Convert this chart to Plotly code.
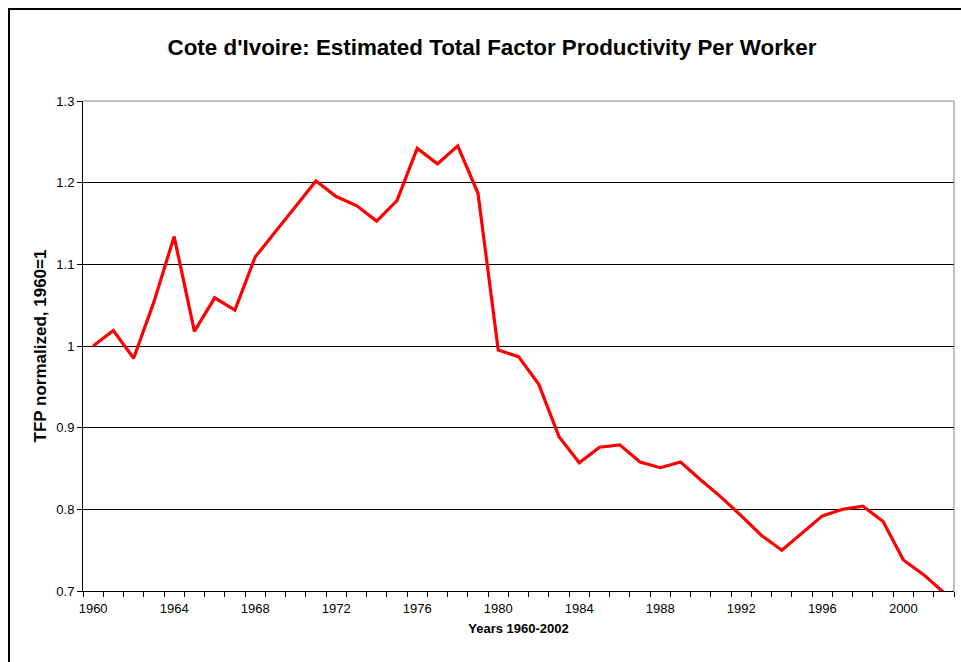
import plotly.graph_objects as go

years = list(range(1960, 2003))
tfp = [1.000, 1.019, 0.985, 1.054, 1.134, 1.018, 1.059, 1.044, 1.109, 1.140,
       1.171, 1.202, 1.183, 1.172, 1.153, 1.178, 1.242, 1.223, 1.245, 1.187,
       0.995, 0.987, 0.953, 0.889, 0.857, 0.876, 0.879, 0.858, 0.851, 0.858,
       0.836, 0.815, 0.792, 0.768, 0.750, 0.771, 0.792, 0.800, 0.804, 0.785,
       0.738, 0.720, 0.698]
xtick_vals = list(range(1960, 2001, 4))
xtick_text = [str(v) for v in xtick_vals]
ytick_vals = [0.7, 0.8, 0.9, 1.0, 1.1, 1.2, 1.3]
ytick_text = ["0.7", "0.8", "0.9", "1", "1.1", "1.2", "1.3"]

W, H = 961, 662
L, R, T, B = 83, 7, 101, 71
pw, ph = W - L - R, H - T - B

def px_x(x):
    return (x - L) / pw

def px_y(y):
    return (H - B - y) / ph

fig = go.Figure()
fig.add_trace(go.Scatter(x=years, y=tfp, mode="lines",
                         line=dict(color="#ff0000", width=3.2),
                         showlegend=False))

font = "Liberation Sans, Arial, sans-serif"
fig.update_layout(
    width=W, height=H,
    margin=dict(l=L, r=R, t=T, b=B),
    paper_bgcolor="white", plot_bgcolor="white",
    font=dict(family=font, size=13, color="black"),
    title=dict(text="<b>Cote d'Ivoire: Estimated Total Factor Productivity Per Worker</b>",
               x=492 / W, xanchor="center", y=1 - 47 / H,
               yanchor="middle",
               font=dict(size=22.4, family=font, color="black")),
    xaxis=dict(range=[1959.5, 2002.5], tickmode="array", tickvals=xtick_vals,
               ticktext=xtick_text, ticks="outside", ticklen=5,
               tickcolor="rgba(0,0,0,0)", showgrid=False, zeroline=False,
               showline=True, linecolor="black", linewidth=1,
               tickfont=dict(size=13),
               minor=dict(tick0=1959.5, dtick=1, ticks="outside", ticklen=5,
                          tickcolor="black", tickwidth=1, showgrid=False),
               title=dict(text="<b>Years 1960-2002</b>", font=dict(size=13),
                          standoff=9)),
    yaxis=dict(range=[0.7, 1.3], tickmode="array", tickvals=ytick_vals,
               ticktext=ytick_text, ticks="outside", ticklen=5,
               tickcolor="black", showgrid=True, gridcolor="black",
               gridwidth=1, zeroline=False, showline=True, linecolor="black",
               linewidth=1, tickfont=dict(size=13),
               title=dict(text="<b>TFP normalized, 1960=1</b>",
                          font=dict(size=17), standoff=5)),
)

# plot area top/right border (gray)
fig.add_shape(type="line", xref="paper", yref="paper", x0=1, x1=1, y0=0, y1=1,
              line=dict(color="#808080", width=1))
fig.add_shape(type="line", xref="paper", yref="paper", x0=0, x1=1, y0=1, y1=1,
              line=dict(color="#808080", width=1))
# chart area border (left and top edges visible in the picture)
fig.add_shape(type="line", xref="paper", yref="paper",
              x0=px_x(9), x1=px_x(9), y0=px_y(700), y1=px_y(8),
              line=dict(color="black", width=2), layer="above")
fig.add_shape(type="line", xref="paper", yref="paper",
              x0=px_x(8), x1=px_x(1000), y0=px_y(9), y1=px_y(9),
              line=dict(color="black", width=2), layer="above")

fig.write_html("out.html", config={"displayModeBar": False},
               post_script="document.body.style.margin='0';"
                           "document.body.style.overflow='hidden';")
